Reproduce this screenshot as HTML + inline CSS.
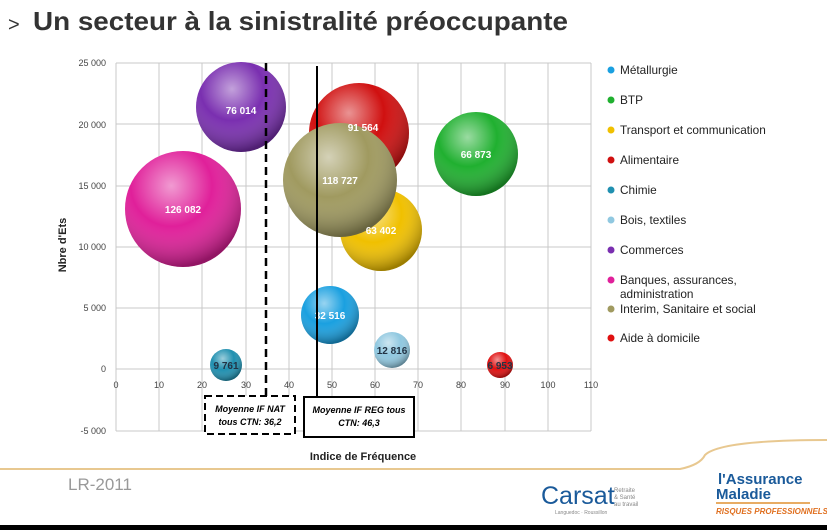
<!DOCTYPE html>
<html><head><meta charset="utf-8"><style>
body{margin:0;width:827px;height:530px;background:#fff;overflow:hidden;position:relative;font-family:"Liberation Sans",sans-serif}
</style></head><body>
<svg width="827" height="530" style="position:absolute;left:0;top:0" font-family="Liberation Sans, sans-serif">
<defs>
<radialGradient id="g" cx="0.4" cy="0.3" r="0.7"><stop offset="0" stop-color="#fff" stop-opacity="0.55"/><stop offset="0.5" stop-color="#fff" stop-opacity="0"/><stop offset="1" stop-color="#000" stop-opacity="0.35"/></radialGradient>
</defs>
<text x="8" y="31" font-size="20" fill="#333">&gt;</text>
<text x="33" y="30" font-size="26" font-weight="bold" fill="#333" textLength="535" lengthAdjust="spacingAndGlyphs">Un secteur à la sinistralité préoccupante</text>
<g stroke="#c8c8c8" stroke-width="1">
<line x1="116" y1="63" x2="591" y2="63"/><line x1="116" y1="124" x2="591" y2="124"/><line x1="116" y1="186" x2="591" y2="186"/><line x1="116" y1="247" x2="591" y2="247"/><line x1="116" y1="308" x2="591" y2="308"/><line x1="116" y1="369" x2="591" y2="369"/><line x1="116" y1="431" x2="591" y2="431"/>
<line x1="116" y1="63" x2="116" y2="431"/><line x1="159" y1="63" x2="159" y2="431"/><line x1="202" y1="63" x2="202" y2="431"/><line x1="246" y1="63" x2="246" y2="431"/><line x1="289" y1="63" x2="289" y2="431"/><line x1="332" y1="63" x2="332" y2="431"/><line x1="375" y1="63" x2="375" y2="431"/><line x1="418" y1="63" x2="418" y2="431"/><line x1="461" y1="63" x2="461" y2="431"/><line x1="505" y1="63" x2="505" y2="431"/><line x1="548" y1="63" x2="548" y2="431"/><line x1="591" y1="63" x2="591" y2="431"/>
</g>
<g font-size="9" fill="#444" text-anchor="end">
<text x="106" y="66">25 000</text><text x="106" y="128">20 000</text><text x="106" y="189">15 000</text><text x="106" y="250">10 000</text><text x="106" y="311">5 000</text><text x="106" y="372">0</text><text x="106" y="434">-5 000</text>
</g>
<g font-size="9" fill="#444" text-anchor="middle">
<text x="116" y="388">0</text><text x="159" y="388">10</text><text x="202" y="388">20</text><text x="246" y="388">30</text><text x="289" y="388">40</text><text x="332" y="388">50</text><text x="375" y="388">60</text><text x="418" y="388">70</text><text x="461" y="388">80</text><text x="505" y="388">90</text><text x="548" y="388">100</text><text x="591" y="388">110</text>
</g>
<text transform="translate(66,245) rotate(-90)" font-size="11" font-weight="bold" text-anchor="middle" fill="#222">Nbre d'Ets</text>
<text x="363" y="460" font-size="11" font-weight="bold" text-anchor="middle" fill="#222">Indice de Fréquence</text>
<g>
<circle cx="241" cy="107" r="45" fill="#7a2fb0"/><circle cx="241" cy="107" r="45" fill="url(#g)"/>
<circle cx="183" cy="209" r="58" fill="#e0209a"/><circle cx="183" cy="209" r="58" fill="url(#g)"/>
<circle cx="359" cy="133" r="50" fill="#d01010"/><circle cx="359" cy="133" r="50" fill="url(#g)"/>
<circle cx="381" cy="230" r="41" fill="#f0c000"/><circle cx="381" cy="230" r="41" fill="url(#g)"/>
<circle cx="340" cy="180" r="57" fill="#a09a60"/><circle cx="340" cy="180" r="57" fill="url(#g)"/>
<circle cx="476" cy="154" r="42" fill="#20b030"/><circle cx="476" cy="154" r="42" fill="url(#g)"/>
<circle cx="330" cy="315" r="29" fill="#1aa0e0"/><circle cx="330" cy="315" r="29" fill="url(#g)"/>
<circle cx="392" cy="350" r="18" fill="#90c8e0"/><circle cx="392" cy="350" r="18" fill="url(#g)"/>
<circle cx="226" cy="365" r="16" fill="#2090b0"/><circle cx="226" cy="365" r="16" fill="url(#g)"/>
<circle cx="500" cy="365" r="13" fill="#e01010"/><circle cx="500" cy="365" r="13" fill="url(#g)"/>
</g>
<g font-size="10" font-weight="bold" fill="#fff" text-anchor="middle">
<text x="241" y="114">76 014</text><text x="183" y="213">126 082</text><text x="363" y="131">91 564</text><text x="381" y="234">63 402</text><text x="340" y="184">118 727</text><text x="476" y="158">66 873</text><text x="330" y="319">32 516</text><text x="392" y="354" fill="#234">12 816</text><text x="226" y="369" fill="#234">9 761</text><text x="500" y="369" fill="#234">6 953</text>
</g>
<line x1="266" y1="63" x2="266" y2="396" stroke="#000" stroke-width="2.5" stroke-dasharray="8,5"/>
<line x1="317" y1="66" x2="317" y2="397" stroke="#000" stroke-width="2"/>
<rect x="205" y="396" width="90" height="38" fill="#fff" stroke="#000" stroke-width="2" stroke-dasharray="7,4"/>
<text x="250" y="412" font-size="9" font-style="italic" font-weight="bold" text-anchor="middle">Moyenne IF NAT</text>
<text x="250" y="425" font-size="9" font-style="italic" font-weight="bold" text-anchor="middle">tous CTN: 36,2</text>
<rect x="304" y="397" width="110" height="40" fill="#fff" stroke="#000" stroke-width="2"/>
<text x="359" y="413" font-size="9" font-style="italic" font-weight="bold" text-anchor="middle">Moyenne IF REG tous</text>
<text x="359" y="426" font-size="9" font-style="italic" font-weight="bold" text-anchor="middle">CTN: 46,3</text>
<g font-size="11.8" fill="#222">
<circle cx="611" cy="70" r="3.5" fill="#1aa0e0"/><text x="620" y="74">Métallurgie</text>
<circle cx="611" cy="100" r="3.5" fill="#20b030"/><text x="620" y="104">BTP</text>
<circle cx="611" cy="130" r="3.5" fill="#f0c000"/><text x="620" y="134">Transport et communication</text>
<circle cx="611" cy="160" r="3.5" fill="#d01010"/><text x="620" y="164">Alimentaire</text>
<circle cx="611" cy="190" r="3.5" fill="#2090b0"/><text x="620" y="194">Chimie</text>
<circle cx="611" cy="220" r="3.5" fill="#90c8e0"/><text x="620" y="224">Bois, textiles</text>
<circle cx="611" cy="250" r="3.5" fill="#7a2fb0"/><text x="620" y="254">Commerces</text>
<circle cx="611" cy="280" r="3.5" fill="#e0209a"/><text x="620" y="284">Banques, assurances,</text><text x="620" y="298">administration</text>
<circle cx="611" cy="309" r="3.5" fill="#a09a60"/><text x="620" y="313">Interim, Sanitaire et social</text>
<circle cx="611" cy="338" r="3.5" fill="#e01010"/><text x="620" y="342">Aide à domicile</text>
</g>
<path d="M0 469 L680 469 Q700 465 705 455 Q720 440 827 440" stroke="#e8c890" stroke-width="2" fill="none"/>
<text x="68" y="490" font-size="17" fill="#999">LR-2011</text>
<text x="541" y="504" font-size="25" fill="#1a5a9a">Carsat</text>
<text x="614" y="492" font-size="6" fill="#888">Retraite</text><text x="614" y="499" font-size="6" fill="#888">&amp; Santé</text><text x="614" y="506" font-size="6" fill="#888">au travail</text>
<text x="555" y="514" font-size="5" fill="#888">Languedoc · Roussillon</text>
<text x="718" y="484" font-size="15" font-weight="bold" fill="#1a5a9a">l'Assurance</text>
<text x="716" y="499" font-size="15" font-weight="bold" fill="#1a5a9a">Maladie</text>
<line x1="716" y1="503" x2="810" y2="503" stroke="#e09030" stroke-width="1.5"/>
<text x="716" y="514" font-size="8" font-weight="bold" font-style="italic" fill="#e07020">RISQUES PROFESSIONNELS</text>
<rect x="0" y="525" width="827" height="5" fill="#000"/>
</svg>
</body></html>
